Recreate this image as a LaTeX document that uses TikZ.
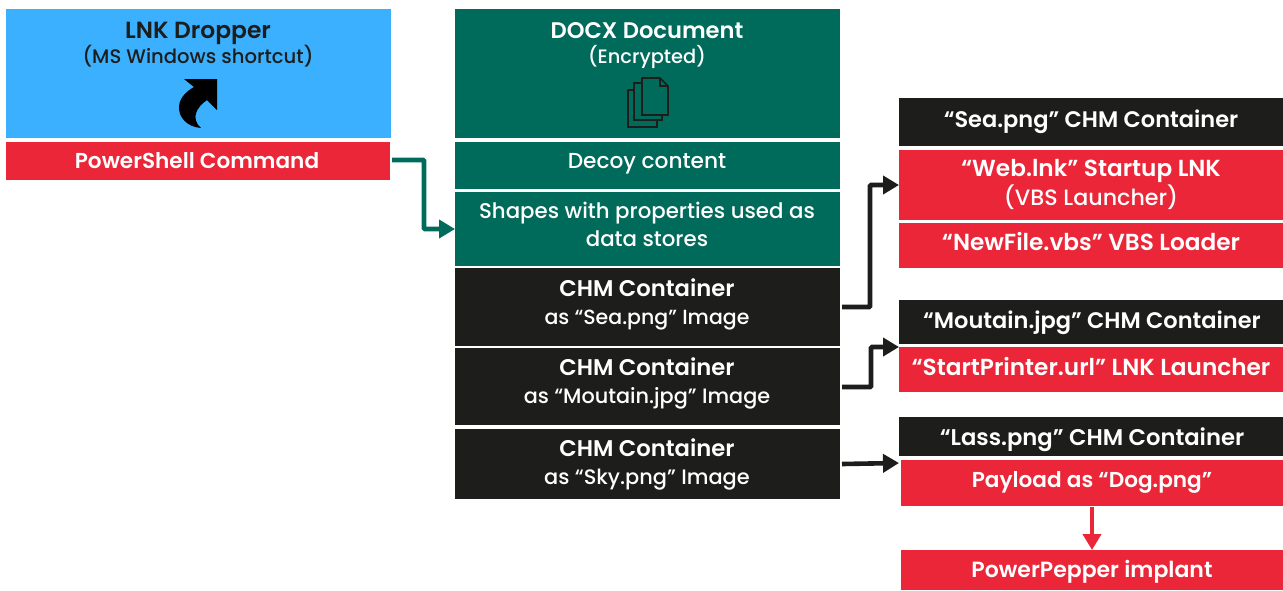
\documentclass[tikz,border=0pt]{standalone}
\usepackage{fontspec}
\setmainfont{Poppins}
\newfontfamily\semi{Poppins SemiBold}
\newfontfamily\medi{Poppins Medium}
\usetikzlibrary{arrows.meta}
\definecolor{kblue}{HTML}{3BB0FF}
\definecolor{kred}{HTML}{EB2638}
\definecolor{kgreen}{HTML}{006B5A}
\definecolor{kblack}{HTML}{1D1D1B}
\newcommand{\boxat}[6]{% name x0 y0 x1 y1 style
  \path[#6] (#2,#3) rectangle (#4,#5);
  \coordinate (#1-c) at ({(#2+#4)/2},{(#3+#5)/2});
  \node[inner sep=0,outer sep=0,minimum width={(#4-#2)*1pt},minimum height={(#5-#3)*1pt}] (#1) at (#1-c) {};}
\tikzset{
  x=1pt,y=-1pt,
  fillblue/.style={fill=kblue},
  fillred/.style={fill=kred},
  fillgreen/.style={fill=kgreen},
  fillblack/.style={fill=kblack},
  label base/.style={inner sep=0,anchor=center,text height=15pt,text depth=0pt},
  whitebold/.style={label base,text=white,font=\fontsize{#1}{24}\selectfont\semi},
  whitereg/.style={label base,text=white,font=\fontsize{#1}{24}\selectfont\medi},
  darkbold/.style={label base,text=kblack,font=\fontsize{#1}{24}\selectfont\semi},
  darkreg/.style={label base,text=kblack,font=\fontsize{#1}{24}\selectfont\medi},
  conn/.style={line width=4.6pt,-{Triangle[length=16pt,width=18pt]},rounded corners=1pt},
  pagestroke/.style={draw=kblack,line width=1.6pt,line join=miter},
}
\begin{document}
\begin{tikzpicture}
\useasboundingbox (0,0) rectangle (1283,590);
\boxat{lnk}{6}{9}{391}{138}{fillblue}
\boxat{ps}{6}{142}{390}{180}{fillred}
\boxat{docx}{455}{9}{840}{138}{fillgreen}
\boxat{decoy}{455}{142}{840}{189}{fillgreen}
\boxat{shapes}{455}{192}{840}{266}{fillgreen}
\boxat{chma}{455}{268}{840}{346}{fillblack}
\boxat{chmb}{455}{348}{840}{425}{fillblack}
\boxat{chmc}{455}{429}{840}{499}{fillblack}
\boxat{sea}{899}{98}{1283}{146}{fillblack}
\boxat{web}{899}{150}{1283}{220}{fillred}
\boxat{newfile}{899}{223}{1283}{268}{fillred}
\boxat{mou}{899}{300}{1283}{344}{fillblack}
\boxat{start}{899}{347}{1283}{392}{fillred}
\boxat{lass}{899}{417}{1283}{456}{fillblack}
\boxat{pay}{901}{460}{1283}{506}{fillred}
\boxat{pepper}{901}{550}{1283}{590}{fillred}

\node[darkbold=23.4] (t1) at (198,30.5) {LNK Dropper};
\node[darkreg=19.6] (t2) at (198,56) {(MS Windows shortcut)};
\node[whitebold=21.6] (t3) at (197,161) {PowerShell Command};
\node[whitebold=22.6] (t4) at (647,30.5) {DOCX Document};
\node[whitereg=19.4] (t5) at (647,56) {(Encrypted)};
\node[whitereg=21.7] (t6) at (647,161) {Decoy content};
\node[whitereg=21.3] (t7) at (647,211) {Shapes with properties used as};
\node[whitereg=21.3] (t8) at (647,239) {data stores};
\node[whitebold=22.7] (t9) at (647,289) {CHM Container};
\node[whitereg=20.5] (t10) at (647,317) {as “Sea.png” Image};
\node[whitebold=22.7] (t11) at (647,368) {CHM Container};
\node[whitereg=20.8] (t12) at (647,396) {as “Moutain.jpg” Image};
\node[whitebold=22.7] (t13) at (647,449) {CHM Container};
\node[whitereg=20.9] (t14) at (647,477) {as “Sky.png” Image};
\node[whitebold=22.5] (t15) at (1091,119.5) {“Sea.png” CHM Container};
\node[whitebold=23.2] (t16) at (1091,169) {“Web.lnk” Startup LNK};
\node[whitereg=22.2] (t17) at (1091,197.5) {(VBS Launcher)};
\node[whitebold=23.2] (t18) at (1091,242.5) {“NewFile.vbs” VBS Loader};
\node[whitebold=22.5] (t19) at (1092,320.5) {“Moutain.jpg” CHM Container};
\node[whitebold=23.2] (t20) at (1091,367.5) {“StartPrinter.url” LNK Launcher};
\node[whitebold=22.7] (t21) at (1092,438) {“Lass.png” CHM Container};
\node[whitebold=21.6] (t22) at (1092,480) {Payload as “Dog.png”};
\node[whitebold=22] (t23) at (1092,570) {PowerPepper implant};

% shortcut icon
\fill[black] (184,79) -- (217,79) -- (217,110) -- (207,100)
  .. controls (197,107) and (190,118) .. (201,128)
  .. controls (187,127) and (178,117) .. (179,106)
  .. controls (180,97) and (187,91) .. (194,87) -- cycle;
% document icon
\draw[pagestroke] (642,78) -- (660,78) -- (668,86) -- (668,115) -- (642,115) -- cycle;
\draw[pagestroke] (660,78) -- (660,86) -- (668,86);
\draw[pagestroke] (642,83) -- (634,83) -- (634,120) -- (662,120) -- (662,115);
\draw[pagestroke] (634,90) -- (628,90) -- (628,127) -- (657,127) -- (657,120);

% connectors
\coordinate (cwa) at (842,307);
\coordinate (cwb) at (899,185);
\coordinate (csa) at (842,387);
\coordinate (csb) at (899,347);
\coordinate (cla) at (842,464);
\coordinate (clb) at (899,463);
\coordinate (cpa) at (1092,507);
\coordinate (cpb) at (1092,550);
\coordinate (cga) at (392,160);
\draw[conn,draw=kgreen,-{Triangle[length=16pt,width=18pt,fill=kgreen]}] (cga) -- (424,160) -- (424,229) -- (shapes.west);
\draw[conn,draw=kblack] (cwa) -- (870,307) -- (870,185) -- (cwb);
\draw[conn,draw=kblack] (csa) -- (871,387) -- (871,347) -- (csb);
\draw[conn,draw=kblack] (cla) -- (clb);
\draw[line width=4.6pt,draw=kred,-{Triangle[length=16pt,width=18pt]}] (cpa) -- (cpb);
\end{tikzpicture}
\end{document}
